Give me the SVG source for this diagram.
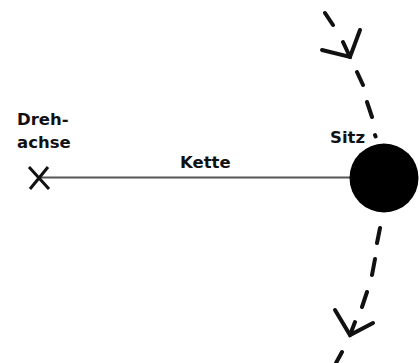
<svg xmlns="http://www.w3.org/2000/svg" width="420" height="363" viewBox="0 0 420 363">
  <style>
    .lbl { font-family: "DejaVu Sans", "Liberation Sans", sans-serif; font-weight: bold; font-size: 16.5px; fill: #111; }
    .ink { stroke: #111; stroke-width: 4; stroke-linecap: round; fill: none; }
  </style>
  <rect width="420" height="363" fill="#fff"/>
  <g id="swing-path">
    <path class="ink" d="M325,13 L333,25 M343,42 L350,57 M357,72 L363,85 M367,102 L372,117 M375,135 L375.6,136.5 M380,228 L377,243 M375,259 L372,275 M367,292 L362,307 M355,322 L350,335 M342,352 L336,363"/>
  </g>
  <g id="arrow-top">
    <path class="ink" d="M322,50 L350,57 L360,30"/>
  </g>
  <g id="arrow-bottom">
    <path class="ink" d="M335,310 L350,335 L373,323"/>
  </g>
  <g id="connectors">
    <line id="kette-line" x1="40" y1="177.5" x2="360" y2="177.5" stroke="#555" stroke-width="2.2"/>
  </g>
  <g id="drehachse">
    <path d="M29,167 L49,189 M48,167 L30,189" stroke="#111" stroke-width="3" fill="none"/>
    <text class="lbl" x="17" y="125">Dreh-</text>
    <text class="lbl" x="17" y="148">achse</text>
  </g>
  <g id="kette">
    <text class="lbl" x="180" y="168">Kette</text>
  </g>
  <g id="sitz">
    <text class="lbl" x="330" y="143">Sitz</text>
    <circle cx="384" cy="178" r="34.5" fill="#000"/>
  </g>
</svg>
